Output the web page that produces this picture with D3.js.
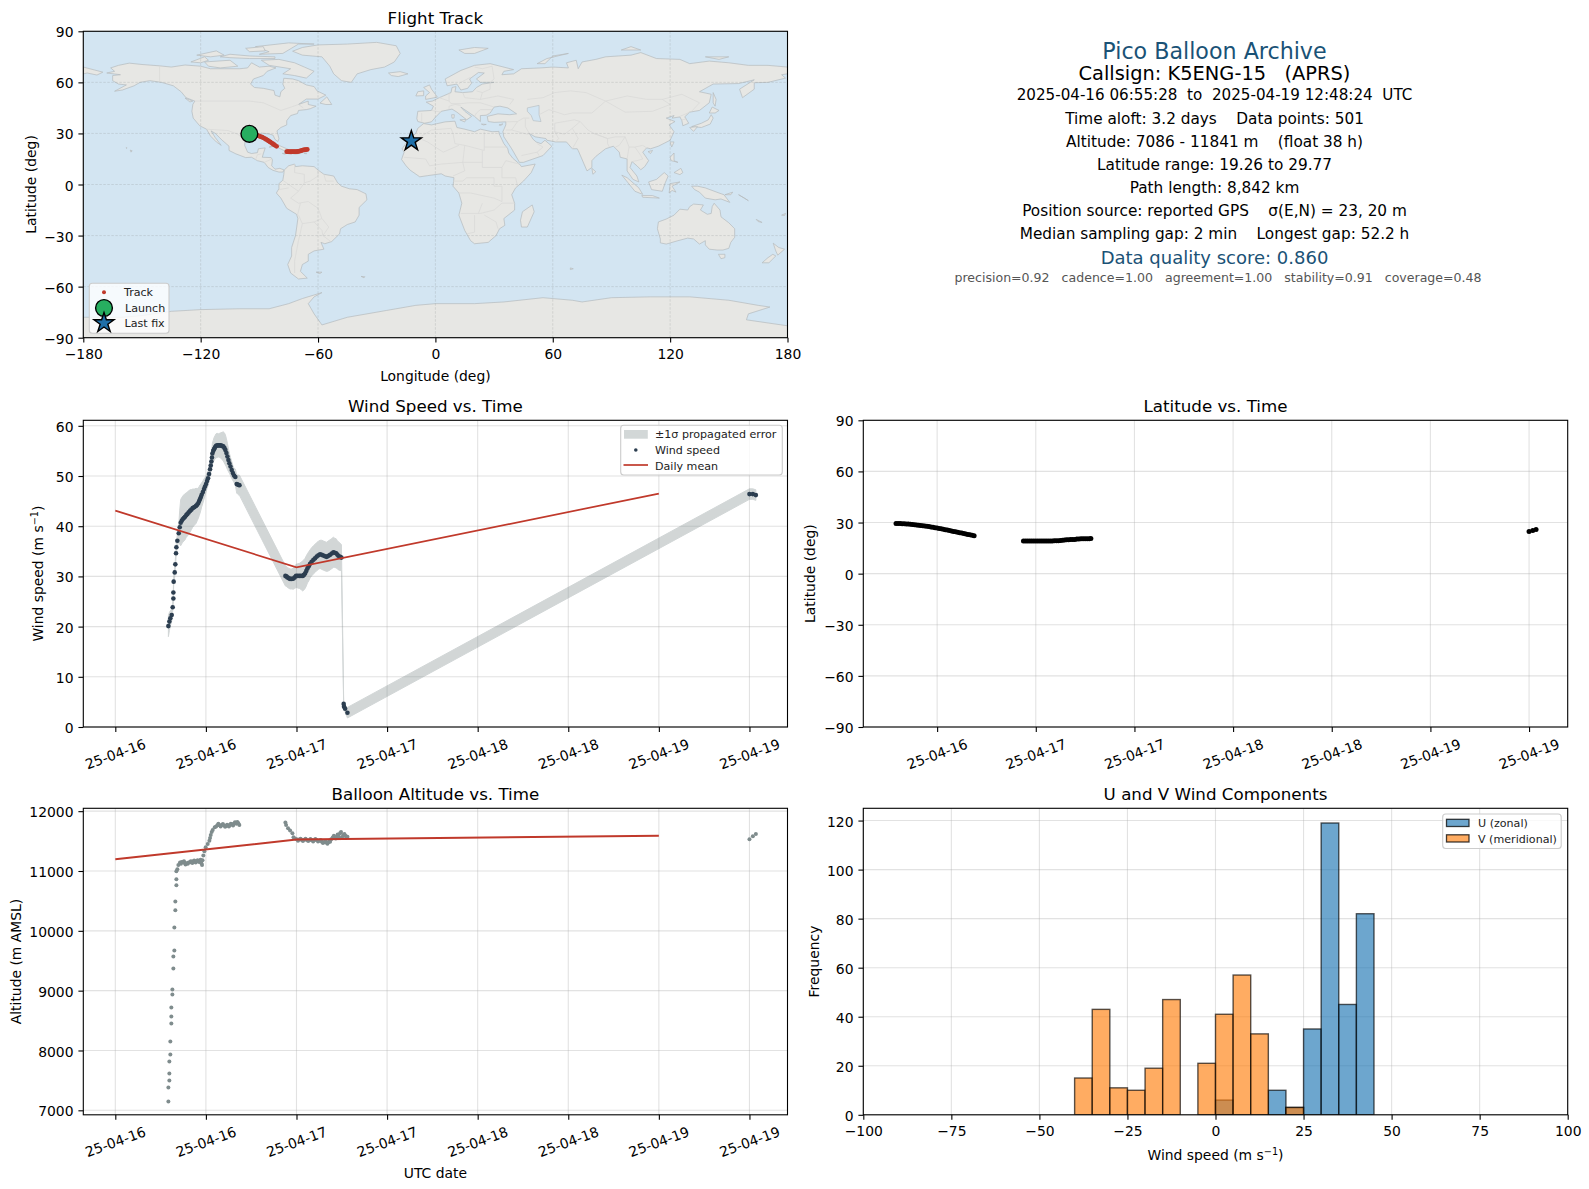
<!DOCTYPE html>
<html>
<head>
    <meta charset="utf-8">
    <title>Pico Balloon Archive</title>
    <style>
        body { margin: 0; background: #fff; }
        svg { display: block; }
        text { font-family: "DejaVu Sans", sans-serif; fill: #000; white-space: pre; }
        .tick text { font-size: 13.9px; }
        .tick line { stroke: #000; stroke-width: 1.1px; }
        .grid line { stroke: #b0b0b0; stroke-opacity: 0.36; stroke-width: 1.1px; }
        .title { font-size: 16.7px; text-anchor: middle; }
        .label { font-size: 13.9px; text-anchor: middle; }
        .legend text { font-size: 11.1px; fill: #222; }
        .frame { fill: none; stroke: #000; stroke-width: 1.1px; }
    </style>
</head>
<body>
    <script src="https://d3js.org/d3.v7.min.js"></script>
    <script>
        const width = 1589;
        const height = 1189;

        // hours after 2025-04-16 00:00 UTC
        const wind_hours = [7.03,7.16,7.29,7.47,7.6,7.69,7.69,7.73,7.87,7.95,8.04,8.09,8.22,8.4,8.53,8.66,8.8,8.93,9.08,9.24,9.4,9.55,9.72,9.9,10.07,10.25,10.47,10.69,10.85,11.0,11.11,11.22,11.33,11.44,11.6,11.75,11.88,12.02,12.15,12.28,12.42,12.55,12.64,12.73,12.8,12.86,12.97,13.08,13.2,13.34,13.5,13.65,13.8,13.96,14.13,14.3,14.45,14.58,14.72,14.85,14.98,15.11,15.26,15.42,15.57,15.73,15.9,16.08,16.2,16.35,16.45,
            22.53,22.66,22.8,22.97,23.15,23.37,23.59,23.76,23.94,24.16,24.39,24.6,24.83,24.98,25.14,25.3,25.45,25.62,25.8,26.0,26.24,26.46,26.68,26.9,27.12,27.35,27.57,27.8,28.01,28.23,28.45,28.67,28.89,29.07,29.25,29.4,29.55,29.78,29.95,
            30.25,30.3,30.44,30.75,84.0,84.45,84.85];
        const wind_speed = [20.1,21.0,21.65,22.3,23.85,25.6,26.8,28.96,30.8,32.4,34.6,35.8,37.1,38.6,39.8,40.7,41.1,41.4,41.65,41.9,42.2,42.45,42.75,43.05,43.3,43.6,43.8,44.05,44.3,44.6,45,45.4,45.8,46.25,46.8,47.4,47.9,48.4,49,49.55,50.4,51.35,52.1,52.9,53.7,54.5,55,55.35,55.7,56.0,56.1,56.1,56.1,56.1,56,55.9,55.6,55.2,54.6,53.9,53.2,52.55,51.9,51.2,50.6,50.1,49.8,48.4,48.3,48.2,48.15,
            30.1,30,29.8,29.65,29.5,29.5,29.56,29.8,30.1,30.1,30.1,30.1,30.1,30.3,30.6,31.1,31.6,32,32.5,32.9,33.3,33.6,33.95,34.2,34.4,34.3,34.15,34,33.9,34.1,34.3,34.55,34.8,34.7,34.6,34.35,34.1,33.9,33.75,
            4.6,4.05,3.65,2.85,46.4,46.4,46.2];
        const wind_sigma = [2.1,1.8,1.5,1.2,0.8,0.6,0.6,0.7,0.8,0.8,0.9,1,1.2,1.5,3.4,4.6,4.6,4.6,4.6,4.6,4.4,4.4,4.3,4.2,4,3.8,3.6,3.5,3.2,3,2.9,2.8,2.6,2.4,2.2,2,1.8,1.6,1.5,1.5,1.5,1.5,1.5,1.6,1.8,2,2.1,2.3,2.3,2.4,2.4,2.3,2.4,2.5,2.7,2.9,3,3,2.8,2.6,2.3,2,1.8,1.7,1.5,1.4,1.6,1.8,1.9,2,2,
            2,2,2,2,2,2,2.1,2.2,2.3,2.4,2.5,2.7,3,3,3,3,2.9,2.9,2.8,2.8,2.8,2.8,2.8,2.8,2.8,2.9,2.9,2.9,2.9,3,3,3,3,2.9,2.9,2.8,2.8,2.7,2.6,
            0.3,0.3,0.7,1.05,1.05,1.05,1.05];

        const mean_hours = [0, 24, 72];
        const mean_wind = [43.1, 31.8, 46.5];
        const mean_alt = [11195, 11525, 11590];

        const alt_hours = [7.03,7.03,7.16,7.16,7.16,7.29,7.29,7.42,7.42,7.42,7.56,7.56,7.69,7.69,7.82,7.82,7.95,7.95,8.09,8.09,8.09,8.22,8.35,8.57,8.7,8.8,9.0,9.1,9.2,9.3,9.45,9.6,9.7,9.9,10.0,10.1,10.2,10.34,10.45,10.55,10.65,10.78,10.9,11.0,11.1,11.22,11.3,11.4,11.49,11.55,11.66,11.8,11.97,12.24,12.46,12.55,12.64,12.77,12.9,13.17,13.35,13.52,13.65,13.8,13.95,14.1,14.25,14.4,14.55,14.67,14.8,14.95,15.05,15.2,15.3,15.45,15.6,15.73,15.85,15.95,16.05,16.17,16.3,16.43,
            22.53,22.62,22.88,23.15,23.46,23.6,23.8,24.03,24.2,24.35,24.55,24.7,24.85,25.0,25.2,25.36,25.55,25.7,25.85,26.02,26.2,26.35,26.5,26.68,26.85,27.0,27.2,27.35,27.5,27.65,27.8,28.0,28.1,28.25,28.35,28.45,28.6,28.8,28.95,29.05,29.2,29.33,29.45,29.55,29.65,29.77,29.9,30.05,30.2,30.35,30.5,30.6,30.75,
            84.0,84.45,84.85];
        const alt_values = [7146,7380,7498,7615,7816,7933,8150,8451,8568,8719,8937,9020,9372,9572,9673,10057,10342,10492,10760,10861,10994,11028,11100,11140,11120,11150,11145,11165,11135,11110,11128,11120,11140,11145,11165,11155,11135,11162,11175,11160,11140,11162,11180,11165,11150,11173,11190,11130,11100,11180,11257,11330,11396,11452,11507,11550,11602,11650,11686,11730,11745,11764,11790,11765,11745,11770,11785,11760,11740,11753,11775,11760,11745,11770,11790,11780,11760,11792,11815,11805,11790,11820,11800,11770,
            11809,11770,11714,11675,11630,11563,11545,11530,11505,11525,11540,11519,11500,11522,11540,11519,11500,11515,11535,11519,11495,11515,11535,11519,11495,11505,11520,11490,11470,11480,11500,11474,11455,11480,11510,11490,11530,11558,11590,11565,11545,11574,11610,11600,11560,11630,11650,11570,11602,11620,11590,11560,11574,
            11530,11580,11620];

        const lat_hours = [7,7.25,7.5,7.75,8,8.25,8.5,8.75,9,9.25,9.5,9.75,10,10.25,10.5,10.75,11,11.25,11.5,11.75,12,12.25,12.5,12.75,13,13.25,13.5,13.75,14,14.25,14.5,14.75,15,15.25,15.5,15.75,16,16.25,16.5,
            22.5,22.75,23,23.25,23.5,23.75,24,24.25,24.5,24.75,25,25.25,25.5,25.75,26,26.25,26.5,26.75,27,27.25,27.5,27.75,28,28.25,28.5,28.75,29,29.25,29.5,29.75,30,30.25,30.5,30.7,
            84.0,84.45,84.85];
        const lat_values = [29.5,29.45,29.4,29.35,29.3,29.2,29.1,28.95,28.8,28.65,28.5,28.35,28.2,28.05,27.9,27.75,27.6,27.4,27.2,27.0,26.8,26.55,26.3,26.05,25.8,25.55,25.3,25.05,24.8,24.55,24.3,24.05,23.8,23.55,23.3,23.05,22.8,22.5,22.3,
            19.2,19.2,19.2,19.2,19.2,19.2,19.2,19.2,19.2,19.2,19.2,19.2,19.2,19.2,19.2,19.25,19.25,19.3,19.4,19.6,19.8,19.9,19.9,20,20,20.1,20.3,20.4,20.5,20.5,20.5,20.55,20.55,20.6,
            24.7,25.3,25.9];

        const track_lon = [-95.1,-94,-93,-92.2,-91.4,-90.7,-90,-89.3,-88.6,-87.9,-87.2,-86.5,-85.8,-85.2,-84.5,-83.8,-83.2,-82.6,-82,-81.2,
            -76,-75.4,-74.8,-74.1,-73.5,-72.9,-72.3,-71.7,-71,-70.4,-69.8,-69.2,-68.5,-67.9,-67.3,-66.7,-66.1,-65.5];
        const track_lat = [29.7,29.6,29.5,29.3,29.0,28.7,28.4,28.1,27.8,27.4,27.0,26.5,26.0,25.5,25.0,24.5,24.0,23.5,23.0,22.4,
            19.3,19.3,19.25,19.25,19.25,19.3,19.3,19.3,19.35,19.4,19.5,19.7,19.9,20.2,20.3,20.4,20.5,20.6];
        const launch = [-95.1, 29.77];
        const last_fix = [-12.3, 25.5];

        const bin_starts = [-40,-35,-30,-25,-20,-15,-10,-5,0,5,10,15,20,25,30,35,40];
        const u_counts = [0,0,0,0,0,0,0,0,6,0,0,10,3,35,119,45,82];
        const v_counts = [15,43,11,10,19,47,0,21,41,57,33,0,3,0,0,0,0];

        const time_ticks = [0,12,24,36,48,60,72,84];
        const lat_ticks = [-90,-60,-30,0,30,60,90];

        const info_text = [
            "Pico Balloon Archive",
            "Callsign: K5ENG-15   (APRS)",
            "2025-04-16 06:55:28  to  2025-04-19 12:48:24  UTC",
            "Time aloft: 3.2 days    Data points: 501",
            "Altitude: 7086 - 11841 m    (float 38 h)",
            "Latitude range: 19.26 to 29.77",
            "Path length: 8,842 km",
            "Position source: reported GPS    σ(E,N) = 23, 20 m",
            "Median sampling gap: 2 min    Longest gap: 52.2 h",
            "Data quality score: 0.860",
            "precision=0.92   cadence=1.00   agreement=1.00   stability=0.91   coverage=0.48"
        ];
        const info_x = [1214.5, 1214.5, 1214.5, 1214.5, 1214.5, 1214.5, 1214.5, 1214.5, 1214.5, 1214.5, 1218];
        const info_y = [52, 74.5, 95.5, 119, 142, 165, 188, 211, 234.5, 258.5, 278.5];
        const info_size = [22.2, 19.4, 15.15, 15.3, 15.3, 15.3, 15.3, 15.3, 15.3, 18, 12.57];
        const info_color = ["#1a5276", "#000", "#000", "#000", "#000", "#000", "#000", "#000", "#000", "#1a5276", "#555"];

        // land outlines, lon/lat
        const land = [
            [[-168,65.5],[-164,66.5],[-166,68.5],[-162,70],[-156.5,71.3],[-150,70.5],[-141,69.7],[-135,69],[-128,70.2],[-120,69.5],[-115,68],[-108,68],[-100,68],[-96,68.5],[-94,71.5],[-90,69],[-85,69.5],[-81.5,68.5],[-86,66.5],[-88,64],[-93,62],[-94.5,59],[-92.5,57],[-88,56.5],[-82.5,55.2],[-82,52.5],[-79.5,51.5],[-79,54.5],[-77,56.5],[-78,59],[-77.5,62.4],[-73,62],[-70,61],[-66,58.5],[-62,57.5],[-60.5,55],[-56,52.5],[-60,50.2],[-66,50.2],[-70,47],[-65,49],[-65,47],[-61,46],[-64,44.5],[-66,44],[-70,43.5],[-70.5,41.7],[-74,40.5],[-76,37.5],[-76,35],[-79,33.5],[-81,31.5],[-80,27],[-80.5,25.2],[-82,26.5],[-83,29],[-85,29.7],[-89,30.2],[-90,29.2],[-94,29.6],[-97.2,27.5],[-97.5,23],[-96,19],[-94,18.2],[-91,18.7],[-90.5,21],[-87,21.5],[-88,18],[-88.5,16],[-84,15.8],[-83.3,14.5],[-83.7,11],[-82,9],[-79.5,9.5],[-77.3,8.5],[-78,7.3],[-80,7.3],[-83,8.3],[-85.5,10],[-87.5,13],[-91,14],[-94,16],[-97,15.8],[-102,18],[-105.5,20],[-105.5,22.5],[-109,26],[-112.5,30],[-114.7,31.5],[-112.5,27.5],[-109.5,23],[-112,25],[-115,28.5],[-117,32.5],[-120.5,34.5],[-123.8,39],[-124.5,43],[-124,47],[-123,49],[-127.5,51],[-130,54.5],[-134,58],[-140,60],[-146,61],[-151,60],[-154,58],[-160,55.5],[-164,54.8],[-158,58.5],[-162,59],[-165,61],[-165,64],[-161,64.5]],
            [[-73,78.3],[-68,80.5],[-60,82],[-45,82.5],[-30,83.5],[-20,81.5],[-18,77],[-21,72],[-26,69],[-33,67.5],[-40,65],[-43,60],[-48,61],[-52,65],[-54,69.5],[-58,75],[-68,76]],
            [[-80,73.5],[-72,71.5],[-67,69],[-62,66.5],[-66,62.5],[-72,64],[-78,65],[-74,68],[-85,70],[-89,73]],
            [[-118,72],[-105,73],[-101,69.5],[-110,68.5],[-116,69.5]],
            [[-125,72],[-118,75],[-116,73],[-120,71.5]],
            [[-90,76.5],[-78,77],[-70,82.5],[-62,82.5],[-75,83.2],[-92,81],[-85,78]],
            [[-110,75],[-105,76.5],[-95,75.5],[-82,75],[-82,74],[-95,74],[-105,74.5]],
            [[-97,80],[-88,81],[-87,78.5],[-95,78]],
            [[-122,76],[-112,78.5],[-108,76],[-115,75]],
            [[-59,47.8],[-55.5,51.5],[-53,47],[-56,47]],
            [[-128,50.8],[-124,49],[-125.5,48.5]],
            [[-85,22],[-80,23],[-75,20.5],[-77.5,20],[-82,22.5]],
            [[-74.5,18.5],[-72,20],[-68.5,18.5],[-71.5,17.8]],
            [[-78.3,18.3],[-76.3,18.2],[-77,17.8]],
            [[-67.2,18.4],[-65.7,18.4],[-66,18]],
            [[-156,20.2],[-155,19.8],[-155.6,19]],
            [[-158.2,21.6],[-157.7,21.6],[-157.8,21.2]],
            [[-77.3,8.5],[-75,11],[-72,12],[-71.5,10.5],[-68,11],[-62,10.5],[-60,8.5],[-57,6],[-52,5],[-50,1],[-48,-1],[-44,-2.5],[-40,-3],[-35.5,-5.5],[-35,-9],[-39,-13.5],[-39,-18],[-41,-22],[-45,-23.5],[-48.5,-26],[-49,-29],[-53,-33.5],[-56.5,-34.8],[-58.5,-34],[-57,-38],[-62,-39],[-65,-41],[-65,-45],[-68,-47],[-69,-51],[-65.5,-55],[-70,-55.5],[-74,-52],[-75.5,-47],[-73.5,-42],[-73.5,-37],[-71.5,-30],[-70.3,-20],[-71,-17.5],[-76,-14],[-79,-8],[-81.3,-5],[-80,-2.5],[-80,0.5],[-78,2.5],[-77.5,6]],
            [[-61,-51.5],[-58,-51.5],[-59,-52.3]],
            [[-38,-54],[-36,-54.2],[-36.5,-54.8]],
            [[-6,35.8],[-2,35],[5,36.8],[10,37.2],[11,33.5],[15,32.5],[20,31],[23,32.5],[29,31],[32.5,31.2],[32.5,30],[35,24],[37,21],[37.5,18.5],[39.5,15.5],[43,12],[44,10.5],[51,12],[49,7],[45,2],[41,-2],[39,-6],[40.5,-11],[40.5,-15],[35,-20],[35.5,-24],[32.8,-26],[31,-30],[27,-34],[20,-34.8],[18,-33],[15,-27],[12,-18],[13.5,-11],[12,-5],[9,-1],[9.5,4],[5,5],[3,6.3],[-4,5.2],[-8,4.5],[-13,8.5],[-15,11],[-17.3,14.7],[-16,19],[-17,21],[-13,27.5],[-10,30],[-9,33]],
            [[-9,37],[-9.5,38.7],[-9,43],[-2,43.5],[-1,46],[-4.7,48.4],[-1.5,49],[2,51],[4,52],[8,54],[8.5,57],[10.5,57.5],[10,54.5],[14,54],[19,54.5],[21,57],[24,59],[30,60],[23,60],[21,62],[25,65.5],[22,65.8],[17.5,62],[18.5,59.5],[16.5,56.5],[13,55.5],[11,59],[6,58],[5,62],[13,67],[20,70],[28,71],[40,67.5],[35,66.5],[34,64.5],[40,65],[44,68],[54,68.5],[60,69],[68,68.5],[67,71.5],[72,73],[73,68],[75,72],[82,73.5],[87,75],[100,76],[105,77.5],[113,74],[125,73.5],[130,71],[140,72.5],[150,71.5],[160,70],[170,70],[180,69],[180,65],[177,64.5],[179,62.5],[170,60],[163,59.8],[163,56],[157,51],[155.5,56],[163,61.5],[155,59.3],[142,59],[135,54.5],[141,53],[140,48],[135,43.5],[130,42.5],[127.5,39.8],[129.5,36],[126.5,34.5],[126,37.5],[125,39.7],[121,39],[122,40.5],[118,39],[122.5,37],[119.5,35],[122,31],[120,26],[114,22.5],[110,21],[108,21.5],[106,19],[109,14],[107,10.5],[105,8.7],[103,11],[100.5,13.5],[99.5,10],[103,5],[104,1.5],[101,3],[98,8],[98,15],[94.5,16],[94,19],[91,22.5],[87,21],[82,16.5],[80,14],[80,10],[77.5,8],[73,20],[72.5,21],[70,21],[67,25],[61.5,25],[57,26],[56.5,27],[51,28],[48,30],[50,26.5],[51.5,25],[54,24],[56,26],[59.5,22.5],[55,17],[45,13],[43,13],[39,21],[35,28],[34.5,31],[36,35],[36,36.8],[30,36.5],[27,37],[26.5,40],[32,41.5],[38,41],[41.5,41.5],[37,45],[33,46],[30,45.5],[28,42],[26,40.7],[23,40.5],[23,37],[20,40],[13,45.5],[15,43],[18.5,40],[16,38],[11,42.5],[8.5,44.3],[3,43],[0,39.5],[-2,36.8],[-5.5,36]],
            [[-180,69],[-175,67.5],[-170,66],[-173,64.3],[-178,65.5],[-180,65]],
            [[-5,50],[1,51.3],[0,53],[-2,56],[-3,58.5],[-6,57],[-3,54],[-5,52]],
            [[-10,52],[-6,52.2],[-6,55],[-9,54.5]],
            [[-24,65.5],[-18,66.3],[-14,65],[-19,63.4],[-22.5,64]],
            [[12,79],[20,80.5],[27,80],[20,77],[15,77]],
            [[52,71],[57,74],[68,77],[60,75.5],[56,71]],
            [[95,79],[105,79],[100,81]],
            [[138,75],[150,75],[145,73.5]],
            [[142,54],[143.5,50],[143,46],[142,48]],
            [[140,42],[141.5,45.5],[145,43.5],[143,42]],
            [[131,34],[136,36],[139.5,38],[141,41],[142,39],[140.5,35.5],[136,33.5]],
            [[130,33.5],[134,34],[132,31.2]],
            [[120,25],[122,25],[120.8,22]],
            [[108.7,19.3],[111,20],[110,18.2]],
            [[120,16],[122,18.5],[122,14],[124,13],[120.5,14]],
            [[122,7],[125.5,9.5],[126.5,7],[125,5.8]],
            [[109,1.5],[113,3],[117,7],[119,5],[117.5,1],[116,-4],[110.5,-3]],
            [[95.3,5.5],[98,4],[104,-2],[106,-5.8],[102,-4],[98.5,1]],
            [[105.5,-6.5],[111,-6.5],[114.5,-8],[106,-7.5]],
            [[119.5,-5],[120,0.5],[125,1.5],[121,-1],[123,-4.5],[121,-3.5]],
            [[131,-1],[134,-1],[138,-2],[145,-5],[147.5,-6],[150.5,-10.5],[146,-8.5],[143,-9],[138,-8],[135,-4.5],[132.5,-3]],
            [[148,-6],[152,-4.5],[151,-6]],
            [[155,-6],[160,-9.5],[158,-8]],
            [[164,-20.5],[167,-22.3],[165,-21.8]],
            [[177,-18],[179,-17],[178.5,-18.2]],
            [[114,-22],[113.5,-26],[115,-32],[115,-34.3],[118,-35],[124,-33],[129,-31.5],[132,-32],[135,-35],[138,-33],[138,-35.5],[140,-38],[144,-38.5],[147,-38.5],[150,-37.5],[151,-34],[153,-31],[153,-26],[150,-22.5],[146,-19],[145.5,-15],[142.5,-11],[141.5,-13],[141,-17],[139,-17.5],[135.5,-15],[137,-12],[132,-11.5],[130,-13],[129,-15],[125,-14.5],[122,-18],[118,-20.3]],
            [[144.7,-41],[148,-41],[148,-43],[146,-43.6]],
            [[172.7,-34.5],[175.5,-37],[178.5,-38],[175,-41.5],[174,-39]],
            [[172.5,-41],[174,-42],[170.5,-46],[167,-46],[170,-43]],
            [[49.5,-12],[50.5,-16],[47,-25],[44,-25],[43.5,-21],[44.5,-16]],
            [[80,9.5],[82,7.5],[80.5,6]],
            [[69,-49],[70.5,-49.5],[69,-50]],
            [[8.3,41],[9.7,41],[9.5,39],[8.5,39]],
            [[12.5,38],[15.5,38.2],[15,36.7]],
            [[23.5,35.5],[26,35.3],[24.5,35]],
            [[32.5,35],[34.5,35.6],[33.5,34.7]],
            [[-180,-90],[-180,-78],[-160,-78],[-150,-77],[-135,-74.5],[-120,-73.5],[-100,-73],[-85,-73],[-75,-70],[-68,-67],[-58,-63.5],[-62,-66],[-65,-70],[-62,-76],[-58,-82.5],[-45,-78],[-35,-76],[-25,-74],[-10,-71],[0,-70],[20,-70],[35,-69],[55,-66.5],[70,-68],[75,-69],[90,-66.5],[110,-66],[130,-66],[150,-68],[165,-71],[171,-72],[160,-76],[159,-79.5],[180,-83],[180,-90]]
        ];

        const inland_seas = [
            [[47,45],[53,46.5],[53,41],[54,37],[50,37.5],[49,40.5],[47,43]]
        ];

        const borders = [
            [[-141,69.7],[-141,60]],[[-123,49],[-95,49],[-88,48],[-79,43.5],[-75,45],[-70,47],[-67.5,45]],
            [[-117,32.5],[-106,31.7],[-101,29.5],[-97.2,26]],[[-92,14.5],[-91,17.5],[-89,18]],[[-87.5,13],[-83.5,15]],
            [[-72,12],[-72,7],[-67,6],[-67,1],[-70,-4],[-74,-8],[-70,-11],[-65,-10],[-60,-14],[-58,-20],[-54.5,-25],[-57.5,-30],[-53.5,-33.5]],
            [[-78,2.5],[-75,0],[-70,-4]],[[-80,-3],[-75,-2]],[[-70.5,-18],[-69,-11]],[[-70,-18],[-68,-23],[-70,-33],[-72,-45],[-72,-52]],
            [[-60,8.5],[-60,5],[-64,2],[-67,1]],[[-57,6],[-56,2],[-52,2]],[[-62,-22],[-58,-20]],[[-68,-23],[-62,-22],[-58,-27],[-57.5,-30]],
            [[-9,27],[-2,32],[8,33],[9,30],[10,24],[15,23],[25,20],[25,31]],[[-13,27.5],[-8,27],[-4,25],[4,19],[12,23]],
            [[-16,16],[-5,15],[-3,11],[3,12],[14,13],[15,8],[9,5]],[[24,20],[24,10],[34,10],[36,14],[43,12]],[[25,22],[37,22]],
            [[15,23],[14,13],[24,13]],[[34,10],[34,4],[41,4],[42,-1]],[[12,-5],[18,-5],[30,-8],[34,-10],[34,-1],[30,-1],[30,4],[16,4],[14,2],[9,2]],
            [[13,-17],[23,-17],[30,-15],[34,-11],[40.5,-11]],[[20,-18],[20,-28],[16,-29]],[[25,-18],[31,-22],[32,-26]],[[24,-11],[22,-17]],
            [[-2,43.5],[3,42.5]],[[-7,42],[-7,37]],[[2,51],[7,49],[7,54]],[[7,49],[8,47.5],[13,47.5],[17,48],[23,48],[30,45.5]],[[14,54],[15,51],[23,50],[24,54],[21,55]],
            [[23,50],[32,52],[40,50],[38,47]],[[24,54],[28,56],[28,60]],[[7,44],[7,46],[10,47],[13,46.5]],[[20,40],[21,42],[23,44],[29,44]],[[26,41],[28,42]],
            [[18,63],[13,60],[12,59]],[[20,69],[24,68],[29,69.5],[30,62],[28,60]],
            [[36,36.8],[42,37],[45,39],[48,39]],[[42,37],[39,32],[47,29.5],[48,30]],[[36,32],[39,32]],[[46,38.5],[46,34],[48,30]],[[61,36],[61,31],[63,27],[61.5,25]],
            [[44,17],[52,19],[55,22],[52,24]],[[53,17],[52,19]],[[47,50],[55,51],[61,54],[69,55],[77,54],[87,49]],[[53,41],[58,44],[66,41],[70,42],[80,42],[87,49]],
            [[66,37],[71,38],[74,37]],[[61,36],[66,37]],[[61,31],[66,29.5],[70,33],[74,37]],[[70,33],[73,27],[70,21]],[[74,37],[78,32],[81,30],[88,27],[92,28],[97,28],[94,23],[92,22]],
            [[81,30],[88,27]],[[88,27],[88,24],[89,22]],[[97,28],[99,22],[102,22],[106,23],[108,21.5]],[[99,22],[98,15]],[[102,22],[105,17],[106,15],[103,14],[100.5,13.5]],
            [[87,49],[97,42.5],[111,43],[120,47],[116,50],[108,50],[98,52],[87,49]],[[116,50],[126,53],[135,48],[131,43]],[[125,40],[130,42.5]],[[126,38],[128.5,38.5]]
        ];

        const svg = d3.select("body").append("svg")
            .attr("width", width)
            .attr("height", height);

        const left_col = [83.3, 787.5];
        const right_col = [863.3, 1567.7];
        const row1 = [337.7, 31.3];
        const row2 = [727, 420.3];
        const row3 = [1114.8, 808.3];

        const date = h => new Date(Date.UTC(2025, 3, 16) + h * 3600000);
        const fmt = d3.utcFormat("%y-%m-%d");
        const time_left = d3.scaleUtc().domain([date(-4.24), date(89.04)]).range(left_col);
        const time_right = d3.scaleUtc().domain([date(3.02), date(88.7)]).range(right_col);

        function panel(x, y, xTicks, yTicks, xFormat, dateAxis) {
            const g = svg.append("g");
            const [x0, x1] = x.range();
            const [y0, y1] = y.range();
            const grid = g.append("g").attr("class", "grid");
            grid.selectAll(".v").data(xTicks).enter().append("line")
                .attr("x1", d => x(d)).attr("x2", d => x(d)).attr("y1", y0).attr("y2", y1);
            grid.selectAll(".h").data(yTicks).enter().append("line")
                .attr("x1", x0).attr("x2", x1).attr("y1", d => y(d)).attr("y2", d => y(d));
            const marks = g.append("g");
            const clipId = "clip" + Math.round(x0) + "_" + Math.round(y1);
            svg.append("clipPath").attr("id", clipId).append("rect")
                .attr("x", x0).attr("y", y1).attr("width", x1 - x0).attr("height", y0 - y1);
            marks.attr("clip-path", `url(#${clipId})`);

            g.append("rect").attr("class", "frame")
                .attr("x", x0).attr("y", y1).attr("width", x1 - x0).attr("height", y0 - y1);
            const ax = g.append("g").attr("transform", `translate(0,${y0})`)
                .call(d3.axisBottom(x).tickValues(xTicks).tickFormat(xFormat).tickSize(4.9).tickPadding(6.4).tickSizeOuter(0));
            if (dateAxis) {
                ax.selectAll(".tick text")
                    .attr("text-anchor", "middle").attr("dy", 0).attr("y", 0)
                    .attr("transform", "translate(0,28) rotate(-20)")
                    .attr("dominant-baseline", "middle");
            }
            const ay = g.append("g").attr("transform", `translate(${x0},0)`)
                .call(d3.axisLeft(y).tickValues(yTicks).tickFormat(d3.format("d")).tickSize(4.9).tickPadding(4.9).tickSizeOuter(0));
            ay.selectAll(".tick text").attr("dy", "0.4em");
            g.selectAll(".domain").remove();
            return marks;
        }

        function title(text, x, y) {
            svg.append("text").attr("class", "title").attr("x", x).attr("y", y).text(text);
        }
        function xlabel(text, x, y) {
            return svg.append("text").attr("class", "label").attr("x", x).attr("y", y).text(text);
        }
        function ylabel(text, x, y) {
            return svg.append("text").attr("class", "label")
                .attr("transform", `translate(${x},${y}) rotate(-90)`).text(text);
        }
        // "m s⁻¹" with a raised exponent
        function addUnit(label) {
            label.append("tspan").text("Wind speed (m s");
            label.append("tspan").attr("dy", -5).attr("font-size", "9.7px").text("−1");
            label.append("tspan").attr("dy", 5).text(")");
        }

        function legendFrame(x, y, w, h) {
            const g = svg.append("g").attr("class", "legend");
            g.append("rect").attr("x", x).attr("y", y).attr("width", w).attr("height", h).attr("rx", 3)
                .attr("fill", "#fff").attr("fill-opacity", 0.8).attr("stroke", "#ccc").attr("stroke-width", 1.1);
            return g;
        }
        function legendText(g, text, x, y) {
            g.append("text").attr("x", x).attr("y", y).attr("dominant-baseline", "middle").text(text);
        }

        // Flight track
        const lonX = d3.scaleLinear().domain([-180, 180]).range(left_col);
        const latY = d3.scaleLinear().domain([-90, 90]).range(row1);
        const mapMarks = panel(lonX, latY, [-180,-120,-60,0,60,120,180], lat_ticks, d3.format("d"), false);
        const outline = d3.line().x(d => lonX(d[0])).y(d => latY(d[1]));
        mapMarks.insert("rect", ":first-child")
            .attr("x", left_col[0]).attr("y", row1[1])
            .attr("width", left_col[1] - left_col[0]).attr("height", row1[0] - row1[1])
            .attr("fill", "#d3e5f2");
        mapMarks.selectAll(".land").data(land).enter().append("path")
            .attr("d", d => outline(d) + "Z")
            .attr("fill", "#e7e7e4").attr("stroke", "#b4babd").attr("stroke-width", 0.7).attr("stroke-linejoin", "round");
        mapMarks.selectAll(".sea").data(inland_seas).enter().append("path")
            .attr("d", d => outline(d) + "Z")
            .attr("fill", "#d3e5f2").attr("stroke", "#b4babd").attr("stroke-width", 0.6);
        mapMarks.selectAll(".border").data(borders).enter().append("path")
            .attr("d", outline).attr("fill", "none").attr("stroke", "#d8d9d7").attr("stroke-width", 0.7);
        const mapGrid = mapMarks.append("g").attr("stroke", "#8a8f92").attr("stroke-opacity", 0.35)
            .attr("stroke-width", 0.7).attr("stroke-dasharray", "2.5,1.5");
        mapGrid.selectAll(".v").data([-120,-60,0,60,120]).enter().append("line")
            .attr("x1", d => lonX(d)).attr("x2", d => lonX(d)).attr("y1", row1[0]).attr("y2", row1[1]);
        mapGrid.selectAll(".h").data([-60,-30,0,30,60]).enter().append("line")
            .attr("x1", left_col[0]).attr("x2", left_col[1]).attr("y1", d => latY(d)).attr("y2", d => latY(d));
        mapMarks.selectAll(".track").data(track_lat).enter().append("circle")
            .attr("cx", (d, i) => lonX(track_lon[i])).attr("cy", d => latY(d))
            .attr("r", 2.4).attr("fill", "#c0392b");
        const star = d3.symbol().type(d3.symbolStar);
        mapMarks.append("circle").attr("cx", lonX(launch[0])).attr("cy", latY(launch[1])).attr("r", 8.4)
            .attr("fill", "#27ae60").attr("stroke", "#000").attr("stroke-width", 1.4);
        mapMarks.append("path").attr("d", star.size(125)())
            .attr("transform", `translate(${lonX(last_fix[0])},${latY(last_fix[1])})`)
            .attr("fill", "#1f6fa8").attr("stroke", "#000").attr("stroke-width", 1.4);
        title("Flight Track", 435.4, 23.5);
        xlabel("Longitude (deg)", 435.4, 380.5);
        ylabel("Latitude (deg)", 36, 184.5);

        const mapLegend = legendFrame(89.3, 283.3, 79.7, 50);
        mapLegend.append("circle").attr("cx", 104).attr("cy", 292.3).attr("r", 2).attr("fill", "#c0392b");
        mapLegend.append("circle").attr("cx", 104).attr("cy", 308).attr("r", 8.4)
            .attr("fill", "#27ae60").attr("stroke", "#000").attr("stroke-width", 1.4);
        mapLegend.append("path").attr("d", star.size(125)()).attr("transform", "translate(104,323)")
            .attr("fill", "#1f6fa8").attr("stroke", "#000").attr("stroke-width", 1.4);
        legendText(mapLegend, "Track", 124, 293);
        legendText(mapLegend, "Launch", 125, 308.7);
        legendText(mapLegend, "Last fix", 124.5, 323.7);

        // Summary text
        svg.append("g").selectAll("text").data(info_text).enter().append("text")
            .attr("x", (d, i) => info_x[i]).attr("y", (d, i) => info_y[i]).attr("text-anchor", "middle")
            .attr("dominant-baseline", "middle")
            .attr("font-size", (d, i) => info_size[i] + "px")
            .style("fill", (d, i) => info_color[i]).text(d => d);

        // Wind speed
        const windY = d3.scaleLinear().domain([0, 61.1]).range(row2);
        const windMarks = panel(time_left, windY, time_ticks.map(date), [0,10,20,30,40,50,60], fmt, true);
        const band = d3.area()
            .x(d => time_left(date(d.h)))
            .y0(d => windY(d.v - d.s)).y1(d => windY(d.v + d.s));
        const windData = wind_hours.map((h, i) => ({h: h, v: wind_speed[i], s: wind_sigma[i]}));
        windMarks.append("path").datum(windData).attr("d", band)
            .attr("fill", "#7f8c8d").attr("stroke", "#7f8c8d").attr("stroke-width", 1)
            .attr("opacity", 0.35);
        windMarks.selectAll(".pt").data(windData).enter().append("circle")
            .attr("cx", d => time_left(date(d.h))).attr("cy", d => windY(d.v))
            .attr("r", 2.3).attr("fill", "#2c3e50");
        const meanLine = y => d3.line().x(d => time_left(date(d))).y((d, i) => y(i));
        windMarks.append("path").datum(mean_hours)
            .attr("d", meanLine(i => windY(mean_wind[i])))
            .attr("fill", "none").attr("stroke", "#c0392b").attr("stroke-width", 1.7);
        title("Wind Speed vs. Time", 435.4, 412);
        addUnit(ylabel("", 43, 573.6));

        const windLegend = legendFrame(620.7, 425.3, 161.6, 49.7);
        windLegend.append("rect").attr("x", 624).attr("y", 430).attr("width", 23.8).attr("height", 8.7)
            .attr("fill", "#7f8c8d").attr("fill-opacity", 0.35);
        windLegend.append("circle").attr("cx", 635.8).attr("cy", 450).attr("r", 1.8).attr("fill", "#2c3e50");
        windLegend.append("line").attr("x1", 623.5).attr("x2", 648).attr("y1", 465).attr("y2", 465)
            .attr("stroke", "#c0392b").attr("stroke-width", 1.7);
        legendText(windLegend, "±1σ propagated error", 655, 435);
        legendText(windLegend, "Wind speed", 655, 451);
        legendText(windLegend, "Daily mean", 655, 466.5);

        // Latitude
        const latPanelY = d3.scaleLinear().domain([-90, 90]).range(row2);
        const latMarks = panel(time_right, latPanelY, time_ticks.slice(1).map(date), lat_ticks, fmt, true);
        latMarks.selectAll(".pt").data(lat_hours).enter().append("circle")
            .attr("cx", d => time_right(date(d))).attr("cy", (d, i) => latPanelY(lat_values[i]))
            .attr("r", 2.5).attr("fill", "#000");
        title("Latitude vs. Time", 1215.5, 412);
        ylabel("Latitude (deg)", 815, 573.6);

        // Altitude
        const altY = d3.scaleLinear().domain([6925, 12048]).range(row3);
        const altMarks = panel(time_left, altY, time_ticks.map(date), [7000,8000,9000,10000,11000,12000], fmt, true);
        altMarks.selectAll(".pt").data(alt_hours).enter().append("circle")
            .attr("cx", d => time_left(date(d))).attr("cy", (d, i) => altY(alt_values[i]))
            .attr("r", 2).attr("fill", "#7f8c8d");
        altMarks.append("path").datum(mean_hours)
            .attr("d", meanLine(i => altY(mean_alt[i])))
            .attr("fill", "none").attr("stroke", "#c0392b").attr("stroke-width", 2);
        title("Balloon Altitude vs. Time", 435.4, 800);
        xlabel("UTC date", 435.4, 1177.5);
        ylabel("Altitude (m AMSL)", 21, 961.5);

        // Histogram
        const histX = d3.scaleLinear().domain([-100, 100]).range(right_col);
        const histY = d3.scaleLinear().domain([0, 125]).range(row3);
        const histMarks = panel(histX, histY, [-100,-75,-50,-25,0,25,50,75,100], [0,20,40,60,80,100,120], d3.format("d"), false);
        function bars(counts, color) {
            const filled = bin_starts.map((b, i) => ({b: b, n: counts[i]})).filter(d => d.n > 0);
            histMarks.append("g").selectAll("rect").data(filled).enter().append("rect")
                .attr("x", d => histX(d.b))
                .attr("width", d => histX(d.b + 5) - histX(d.b))
                .attr("y", d => histY(d.n))
                .attr("height", d => histY(0) - histY(d.n))
                .attr("fill", color).attr("fill-opacity", 0.65)
                .attr("stroke", "#000").attr("stroke-opacity", 0.65).attr("stroke-width", 1.4);
        }
        bars(u_counts, "#1f77b4");
        bars(v_counts, "#ff7f0e");
        title("U and V Wind Components", 1215.5, 800);
        addUnit(xlabel("", 1215.5, 1159.5));
        ylabel("Frequency", 819, 961.5);

        const histLegend = legendFrame(1442.7, 814, 118.5, 34.5);
        histLegend.append("rect").attr("x", 1446.5).attr("y", 819.3).attr("width", 22.5).attr("height", 7.2)
            .attr("fill", "#1f77b4").attr("fill-opacity", 0.65).attr("stroke", "#000").attr("stroke-opacity", 0.75).attr("stroke-width", 1.3);
        histLegend.append("rect").attr("x", 1446.5).attr("y", 834.8).attr("width", 22.5).attr("height", 7.2)
            .attr("fill", "#ff7f0e").attr("fill-opacity", 0.65).attr("stroke", "#000").attr("stroke-opacity", 0.75).attr("stroke-width", 1.3);
        legendText(histLegend, "U (zonal)", 1478, 824);
        legendText(histLegend, "V (meridional)", 1478, 839.5);
    </script>
</body>
</html>
